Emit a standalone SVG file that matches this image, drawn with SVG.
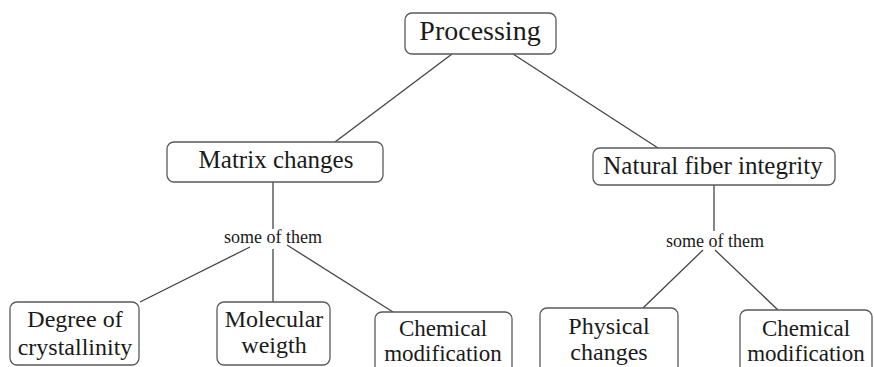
<svg xmlns="http://www.w3.org/2000/svg" width="874" height="367" viewBox="0 0 874 367">
  <style>
    .box { fill: #ffffff; stroke: #5a5a5a; stroke-width: 1.3; }
    .link { stroke: #444444; stroke-width: 1.3; fill: none; }
    .txt { font-family: 'Liberation Serif', 'Times New Roman', 'DejaVu Serif', serif; fill: #1a1a1a; text-anchor: middle; }
    .t1 { font-size: 28px; }
    .t2 { font-size: 25px; }
    .t3 { font-size: 24px; }
    .t4 { font-size: 23px; }
    .lbl { font-size: 18px; }
  </style>
  <rect width="874" height="367" fill="#ffffff"/>

  <g id="connectors">
    <line class="link" x1="452" y1="54" x2="335" y2="142"/>
    <line class="link" x1="513" y1="54" x2="658" y2="148"/>
    <line class="link" x1="273" y1="182" x2="273" y2="229"/>
    <line class="link" x1="250" y1="247" x2="140" y2="302"/>
    <line class="link" x1="273" y1="249" x2="273" y2="302"/>
    <line class="link" x1="287" y1="245" x2="393" y2="312"/>
    <line class="link" x1="714" y1="185" x2="714" y2="231"/>
    <line class="link" x1="703" y1="250" x2="643" y2="308"/>
    <line class="link" x1="715" y1="250" x2="778" y2="310"/>
  </g>

  <g id="labels" class="txt">
    <text class="lbl" x="273" y="243">some of them</text>
    <text class="lbl" x="715" y="247">some of them</text>
  </g>

  <g id="processing" class="txt">
    <rect class="box" x="405" y="13" width="151" height="41" rx="7"/>
    <text class="t1" x="480" y="40">Processing</text>
  </g>

  <g id="matrix-changes" class="txt">
    <rect class="box" x="167" y="142" width="216" height="40" rx="7"/>
    <text class="t2" x="276" y="168">Matrix changes</text>
  </g>

  <g id="natural-fiber-integrity" class="txt">
    <rect class="box" x="593" y="148" width="242" height="37" rx="7"/>
    <text class="t2" x="713" y="174">Natural fiber integrity</text>
  </g>

  <g id="degree-of-crystallinity" class="txt">
    <rect class="box" x="10" y="302" width="129" height="63" rx="7"/>
    <text class="t3" x="75" y="327">Degree of</text>
    <text class="t3" x="75" y="355">crystallinity</text>
  </g>

  <g id="molecular-weigth" class="txt">
    <rect class="box" x="217" y="302" width="113" height="63" rx="7"/>
    <text class="t3" x="274" y="327">Molecular</text>
    <text class="t3" x="274" y="353">weigth</text>
  </g>

  <g id="chemical-modification-matrix" class="txt">
    <rect class="box" x="375" y="312" width="137" height="64" rx="7"/>
    <text class="t4" x="443" y="336">Chemical</text>
    <text class="t4" x="443" y="361">modification</text>
  </g>

  <g id="physical-changes" class="txt">
    <rect class="box" x="540" y="308" width="138" height="66" rx="7"/>
    <text class="t3" x="609" y="334">Physical</text>
    <text class="t3" x="609" y="360">changes</text>
  </g>

  <g id="chemical-modification-fiber" class="txt">
    <rect class="box" x="740" y="310" width="132" height="64" rx="7"/>
    <text class="t4" x="806" y="336">Chemical</text>
    <text class="t4" x="806" y="361">modification</text>
  </g>
</svg>
